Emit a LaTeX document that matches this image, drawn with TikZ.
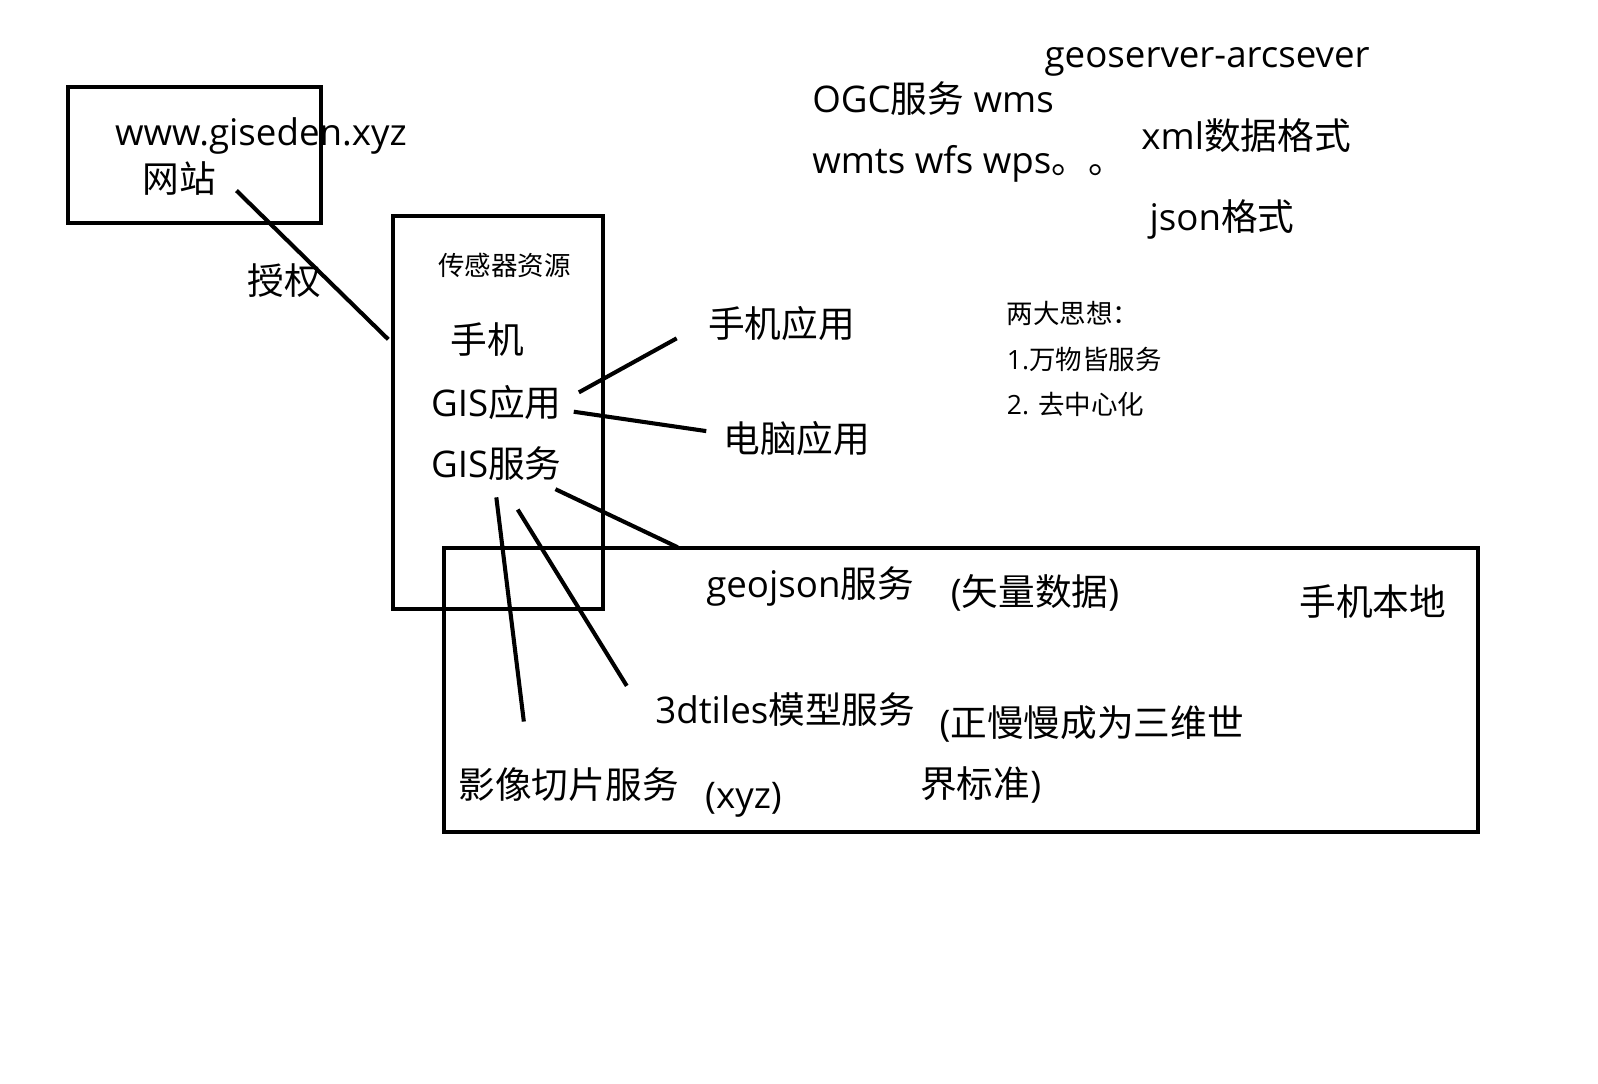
\documentclass[tikz,border=0pt]{standalone}
\usepackage{fontspec}
\setmainfont{Open Sans}
\newfontfamily\cjk{Noto Sans CJK SC}
\newcommand{\zh}[1]{{\cjk #1}}

\begin{document}
\begin{tikzpicture}[x=0.75pt,y=0.75pt,yscale=-1,xscale=1,
  big/.style={anchor=west,inner sep=0.75pt,font=\fontsize{27}{32}\selectfont},
  small/.style={anchor=west,inner sep=0.75pt,font=\fontsize{19.5}{24}\selectfont},
  every path/.style={line width=3pt}]
%set diagram size
\path (0,0) rectangle (1568,1063);

%Shape: Rectangle [website]
\draw   (67,85) rectangle (315,219) ;
%Shape: Rectangle [sensor]
\draw   (386,212) rectangle (592,598) ;
%Shape: Rectangle [phone local]
\draw   (436,538) rectangle (1450,816) ;

% Text Node
\node [big] (site) at (110,133) {www.giseden.xyz};
% Text Node
\node [big] (wz) at (137,175) {\zh{网站}};
% Text Node
\node [big] (sq) at (240,275) {\zh{授权}};
% Text Node
\node [small] (cgq) at (427,260) {\zh{传感器资源}};
% Text Node
\node [big] (sj) at (439,333) {\zh{手机}};
% Text Node
\node [big] (gisyy) at (420,395) {GIS\zh{应用}};
% Text Node
\node [big] (gisfw) at (420,455) {GIS\zh{服务}};
% Text Node
\node [big] (sjyy) at (692,317) {\zh{手机应用}};
% Text Node
\node [big] (dnyy) at (707,430) {\zh{电脑应用}};
% Text Node
\node [big] (geojson) at (690,575) {geojson\zh{服务}};
% Text Node
\node [big] (slsj) at (930,582) {(\zh{矢量数据})};
% Text Node
\node [big] (sjbd) at (1272,590) {\zh{手机本地}};
% Text Node
\node [big] (tiles) at (640,696) {3dtiles\zh{模型服务}};
% Text Node
\node [big] (zmm) at (919,710) {(\zh{正慢慢成为三维世}};
% Text Node
\node [big] (jbz) at (900,770) {\zh{界标准})};
% Text Node
\node [big] (yxqp) at (447,770) {\zh{影像切片服务}};
% Text Node
\node [big] (xyz) at (689,785) {(xyz)};
% Text Node
\node [big] (geoserver) at (1022,61) {geoserver-arcsever};
% Text Node
\node [big] (ogc) at (794,97) {OGC\zh{服务} wms};
% Text Node
\node [big] (wmts) at (794,161) {wmts wfs wps\zh{。。}};
% Text Node
\node [big] (xml) at (1117,133) {xml\zh{数据格式}};
% Text Node
\node [big] (json) at (1125,215) {json\zh{格式}};
% Text Node
\node [small] (ldsx) at (985,308) {\zh{两大思想：}};
% Text Node
\node [small] (wwjfw) at (985,353) {1.\zh{万物皆服务}};
% Text Node
\node [small] (qzxh) at (985,397) {2. \zh{去中心化}};

%line ends
\coordinate (wz-e) at (232,187);
\coordinate (cgq-w) at (381,333);
\coordinate (gisyy-a) at (568,385);
\coordinate (sjyy-w) at (664,332);
\coordinate (gisyy-b) at (563,404);
\coordinate (dnyy-w) at (693,423);
\coordinate (gisfw-a) at (545,480);
\coordinate (box-n) at (665,537);
\coordinate (gisfw-b) at (487,488);
\coordinate (yxqp-n) at (514,708);
\coordinate (gisfw-c) at (508,500);
\coordinate (tiles-w) at (615,673);

%Straight Lines
\draw    (wz-e) -- (cgq-w) ;
%Straight Lines
\draw    (gisyy-a) -- (sjyy-w) ;
%Straight Lines
\draw    (gisyy-b) -- (dnyy-w) ;
%Straight Lines
\draw    (gisfw-a) -- (box-n) ;
%Straight Lines
\draw    (gisfw-b) -- (yxqp-n) ;
%Straight Lines
\draw    (gisfw-c) -- (tiles-w) ;

\end{tikzpicture}
\end{document}
